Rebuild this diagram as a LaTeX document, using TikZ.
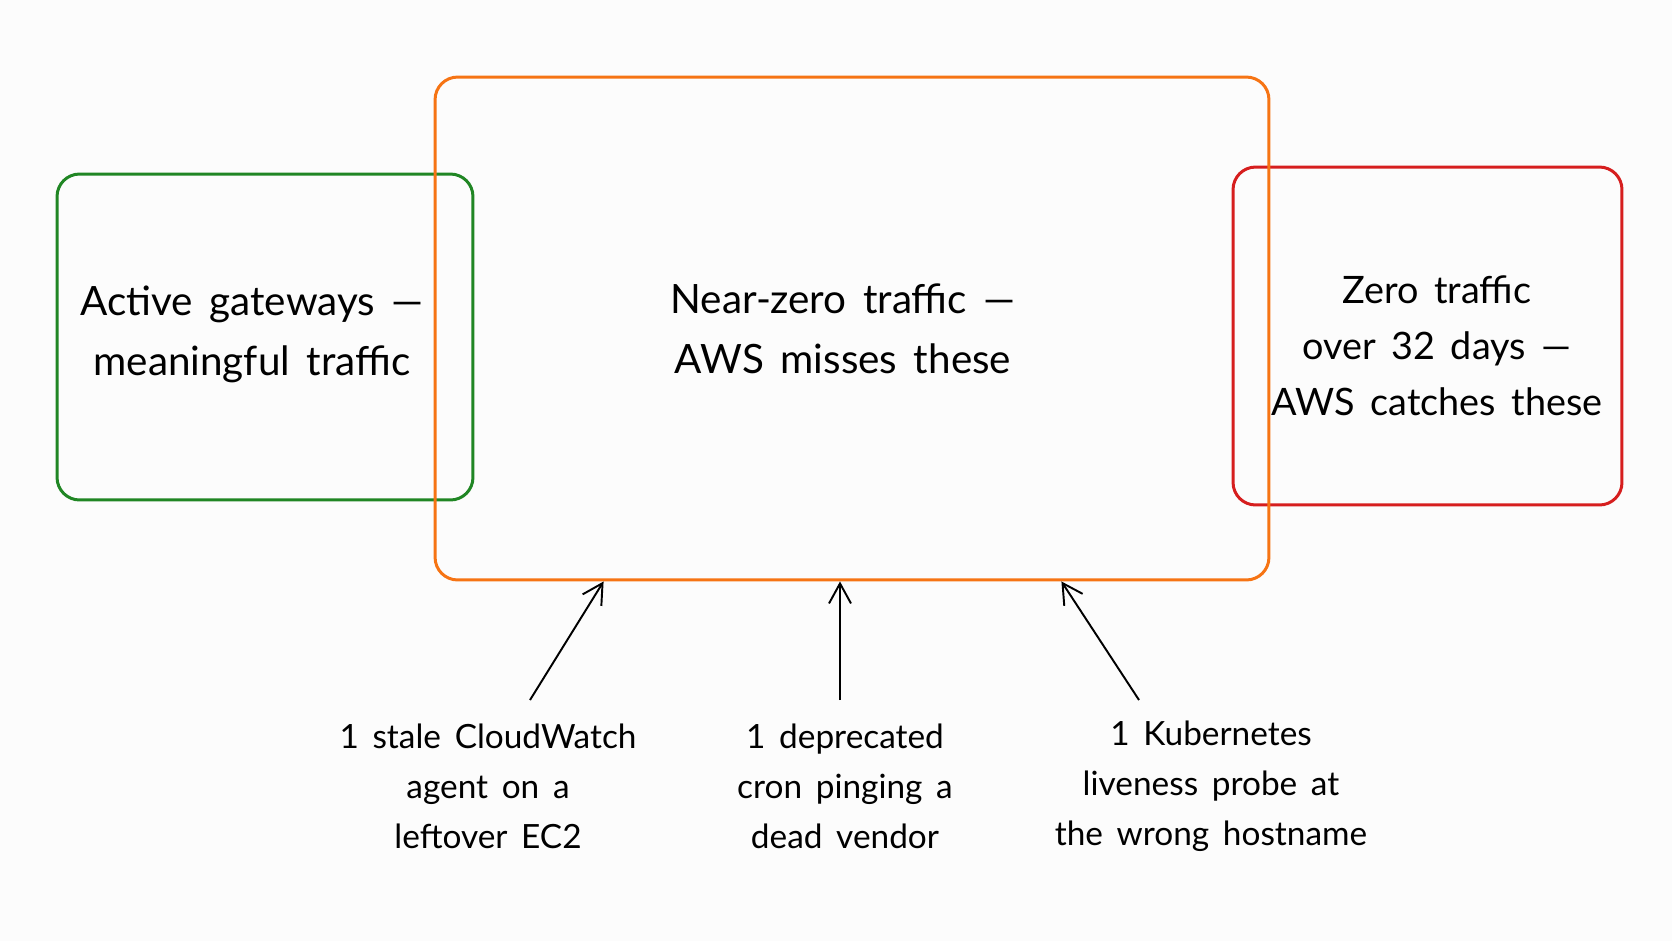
\documentclass[tikz,border=0pt]{standalone}
\usepackage{fontspec}
\setmainfont{Lato}[WordSpace=1.6]
\usetikzlibrary{arrows.meta,calc}
\definecolor{actgreen}{RGB}{32,134,36}
\definecolor{nearorange}{RGB}{246,116,20}
\definecolor{zerored}{RGB}{214,30,30}
\definecolor{paper}{RGB}{252,252,252}

\begin{document}
\begin{tikzpicture}[
  x=0.02cm, y=-0.02cm,
  zone/.style={rectangle, draw, rounded corners=0.45cm, line width=1.7pt},
  gbox/.style={zone, draw=actgreen, minimum width=8.32cm, minimum height=6.52cm},
  obox/.style={zone, draw=nearorange, minimum width=16.68cm, minimum height=10.06cm},
  rbox/.style={zone, draw=zerored, minimum width=7.78cm, minimum height=6.76cm},
  big/.style={align=center, font=\fontsize{23}{34}\selectfont},
  note/.style={align=center, font=\fontsize{19}{28.4}\selectfont},
  arr/.style={draw, -{Straight Barb[length=4mm, width=4.4mm]}, line width=1.1pt}
]
\fill[paper] (0,0) rectangle (1672,941);
\useasboundingbox (0,0) rectangle (1672,941);

% the three zones
\node[gbox] (active) at (265,337) {};
\node[rbox] (zero)   at (1427.5,336) {};
\node[obox] (near)   at (852,328.5) {};

\node[big] (activetxt) at (252,334) {Active gateways —\\meaningful traffic};
\node[big] (neartxt)   at (843,329) {Near-zero traffic —\\AWS misses these};
\node[big, font=\fontsize{21.5}{32}\selectfont] (zerotxt) at (1437,346)
  {Zero traffic\\over 32 days —\\AWS catches these};

% what keeps them alive
\node[note] (stale) at (488,786) {1 stale CloudWatch\\agent on a\\leftover EC2};
\node[note] (cron)  at (845,786) {1 deprecated\\cron pinging a\\dead vendor};
\node[note] (probe) at (1211,786) {1 Kubernetes\\liveness probe at\\the wrong hostname};

\coordinate (staletail) at (530,700);
\coordinate (crontail)  at (840,700);
\coordinate (probetail) at (1139,700);

\draw[arr] (staletail) -- ($(near.south west)+(170,0)$);
\draw[arr] (crontail)  -- ($(near.south)+(-12,0)$);
\draw[arr] (probetail) -- ($(near.south east)+(-209,0)$);
\end{tikzpicture}
\end{document}
